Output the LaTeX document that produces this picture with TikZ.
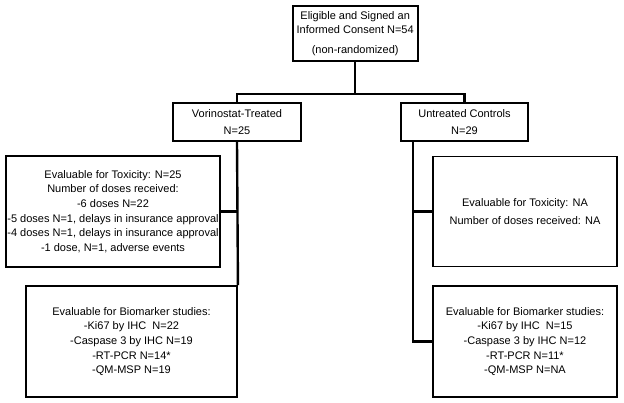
\documentclass[tikz,border=0pt]{standalone}
\usepackage{fontspec}
\setmainfont{Liberation Sans}
\usepackage{tikz}
\usetikzlibrary{calc}
\tikzset{
	flowbox/.style={draw=black, line width=1.9pt, align=center, inner sep=0pt,
		font=\fontsize{11}{14.7}\selectfont},
	flowline/.style={draw=black, line width=2.4pt}
}

\begin{document}
\begin{tikzpicture}[x=1pt, y=-1pt]
			%%%%% START %%%%%
			
			\useasboundingbox (0, 0) rectangle (624, 403);
			
			\node[flowbox, minimum width=125, minimum height=55] (consent) at (355.2, 33.5)
				{Eligible and Signed an\\Informed Consent N=54\\[5pt](non-randomized)};
			
			\node[flowbox, minimum width=128, minimum height=38] (treated) at (237, 122.2)
				{Vorinostat-Treated\\[2pt]N=25};
			\node[flowbox, minimum width=127, minimum height=38] (controls) at (464.5, 122.2)
				{Untreated Controls\\[2pt]N=29};
			
			\node[flowbox, minimum width=214, minimum height=111] (toxL) at (113, 211.5)
				{Evaluable for Toxicity: N=25\\Number of doses received:\\-6 doses N=22\\
				-5 doses N=1, delays in insurance approval\\-4 doses N=1, delays in insurance approval\\
				-1 dose, N=1, adverse events};
			\node[flowbox, minimum width=184, minimum height=110] (toxR) at (525, 211.5)
				{Evaluable for Toxicity: NA\\[3.6pt]Number of doses received: NA};
			
			\node[flowbox, minimum width=211, minimum height=111] (bioL) at (131.5, 341.5)
				{Evaluable for Biomarker studies:\\-Ki67 by IHC\ \ N=22\\-Caspase 3 by IHC N=19\\
				-RT-PCR N=14*\\-QM-MSP N=19};
			\node[flowbox, minimum width=184, minimum height=111] (bioR) at (525, 341.5)
				{Evaluable for Biomarker studies:\\-Ki67 by IHC\ \ N=15\\-Caspase 3 by IHC N=12\\
				-RT-PCR N=11*\\-QM-MSP N=NA};
			
			\coordinate (split) at (355.2, 94);
			\coordinate (trunkR) at ($(controls.south west)+(13, 0)$);
			
			\draw[flowline] (consent.south) -- (split);
			\draw[flowline] (treated.north) |- (split) -| (controls.north);
			
			\draw[flowline] (treated.south) -- (bioL.north east);
			\draw[flowline] (toxL.east) -- (treated.south |- toxL.east);
			
			\draw[flowline] (trunkR) |- (bioR.west);
			\draw[flowline] (toxR.west) -- (trunkR |- toxR.west);
			
			%%%%% END %%%%%
\end{tikzpicture}
\end{document}
